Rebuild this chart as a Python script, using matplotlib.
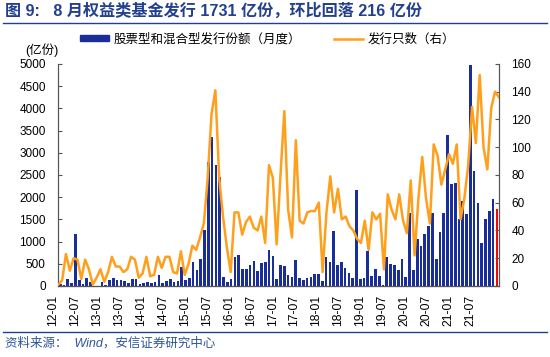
import numpy as np
import matplotlib
matplotlib.use("Agg")
import matplotlib.pyplot as plt
from matplotlib.patches import Patch
from matplotlib.lines import Line2D
from matplotlib.transforms import blended_transform_factory

plt.rcParams["font.family"] = ["Liberation Sans", "Noto Sans CJK SC"]

# 月份: 2012-01 ... 2021-08
months = [f"{y % 100:02d}-{m:02d}" for y in range(2012, 2022) for m in range(1, 13)][:116]

# 股票型和混合型发行份额（亿份）
shares = [
    40, 20, 150, 75, 1160, 130, 50, 190, 100, 10, 5, 80,
    20, 130, 190, 130, 140, 110, 60, 150, 150, 40, 60, 100,
    60, 80, 250, 70, 110, 150, 100, 110, 430, 140, 190, 547,
    360, 607, 1260, 2800, 3350, 2720, 2460, 210, 100, 150, 650, 700,
    390, 380, 470, 560, 330, 520, 540, 800, 677, 165, 466, 440,
    250, 200, 580, 180, 140, 180, 200, 262, 270, 110, 655, 550,
    1230, 470, 540, 405, 290, 180, 2155, 150, 188, 782, 226, 391,
    226, 15, 662, 504, 466, 361, 602, 211, 1654, 353, 1053, 902,
    1181, 1354, 1654, 617, 1218, 1654, 3399, 2294, 2309, 1504, 1918, 1617,
    4970, 2594, 1865, 963, 1504, 1692, 1947, 1731,
]

# 发行只数（右轴）
counts = [
    1, 4, 23, 11, 20, 19, 5, 19, 12, 1, 6, 12,
    3, 10, 21, 14, 14, 10, 12, 21, 19, 6, 9, 21,
    7, 8, 21, 13, 21, 21, 10, 9, 25, 8, 16, 29,
    26, 35, 45, 78, 124, 141, 78, 50, 28, 10, 53, 53,
    37, 46, 50, 42, 40, 50, 31, 87, 78, 30, 80, 126,
    55, 35, 105, 47, 45, 53, 54, 54, 60, 10, 53, 79,
    53, 70, 48, 50, 43, 40, 34, 31, 47, 26, 53, 48,
    52, 12, 66, 55, 48, 66, 47, 38, 76, 22, 63, 93,
    63, 45, 102, 94, 73, 84, 95, 88, 102, 48, 63, 87,
    129, 103, 152, 100, 84, 128, 140, 136,
]

xlabels = ["12-01", "12-07", "13-01", "13-07", "14-01", "14-07", "15-01",
           "15-07", "16-01", "16-07", "17-01", "17-07", "18-01", "18-07",
           "19-01", "19-07", "20-01", "20-07", "21-01", "21-07"]

NAVY = "#1A2E9A"
ORANGE = "#FF9F1C"
TITLE_BLUE = "#23408E"
AXIS = "#555555"

fig = plt.figure(figsize=(5.5, 3.57), dpi=100)
ax = fig.add_axes([0.106, 0.199, 0.801, 0.622])

x = np.arange(len(months))
colors = [NAVY] * (len(shares) - 1) + ["#FF0000"]
ax.bar(x, shares, width=0.7, color=colors, zorder=2)
ax.set_xlim(-0.5, len(months) - 0.5)
ax.set_ylim(0, 5000)
ax.set_yticks(range(0, 5001, 500))
ax.set_xticks([])
ax.tick_params(axis="y", direction="in", length=3, pad=9, labelsize=8.5,
               color=AXIS)

ax2 = ax.twinx()
ax2.set_ylim(0, 160)
ax2.set_yticks(range(0, 161, 20))
ax2.tick_params(axis="y", direction="in", length=3, pad=9, labelsize=8.5,
                color=AXIS)

# 折线放在次坐标轴上，点从左轴铺到右轴
ax3 = ax2.twiny()
ax3.plot(np.arange(len(counts)), counts, color=ORANGE, lw=1.8, zorder=3)
ax3.set_xlim(0, len(counts) - 1)
ax3.set_xticks([])

for a in (ax, ax2, ax3):
    a.spines["top"].set_visible(False)
    for s in ("left", "right", "bottom"):
        a.spines[s].set_color(AXIS)
        a.spines[s].set_linewidth(0.8)
ax3.spines["left"].set_visible(False)
ax3.spines["right"].set_visible(False)

# x 轴标签（竖排）
trans = blended_transform_factory(ax.transData, ax.transAxes)
for pos, lab in zip(np.linspace(-1.8, 107.9, len(xlabels)), xlabels):
    ax.text(pos, -0.04, lab, rotation=90, ha="center", va="top",
            fontsize=8.8, transform=trans, clip_on=False)

fig.text(0.045, 1 - 50 / 357, "(亿份)", fontsize=9, ha="left", va="center")

handles = [Patch(color=NAVY), Line2D([], [], color=ORANGE, lw=1.8)]
fig.legend(handles, ["股票型和混合型发行份额（月度）", "发行只数（右）"],
           loc="upper left", bbox_to_anchor=(80 / 550, 1 - 33 / 357),
           ncol=2, frameon=False, fontsize=9, borderpad=0,
           handlelength=2.3, handleheight=0.45, handletextpad=0.4,
           columnspacing=2.6, borderaxespad=0)

# 标题与分隔线
fig.text(5 / 550, 1 - 11 / 357,
         "图 9:   8 月权益类基金发行 1731 亿份，环比回落 216 亿份",
         fontsize=11.6, fontweight="bold", color=TITLE_BLUE, ha="left",
         va="center")
fig.add_artist(Line2D([0.005, 0.995], [1 - 23 / 357] * 2, color=TITLE_BLUE,
                      lw=1.0, transform=fig.transFigure))
fig.add_artist(Line2D([0.005, 0.995], [1 - 332 / 357] * 2, color=TITLE_BLUE,
                      lw=1.0, transform=fig.transFigure))
fig.text(5 / 550, 1 - 343 / 357, "资料来源：  Wind，安信证券研究中心",
         fontsize=9, style="italic", color="#2E5597", ha="left",
         va="center")

fig.savefig("out.png", dpi=100)
